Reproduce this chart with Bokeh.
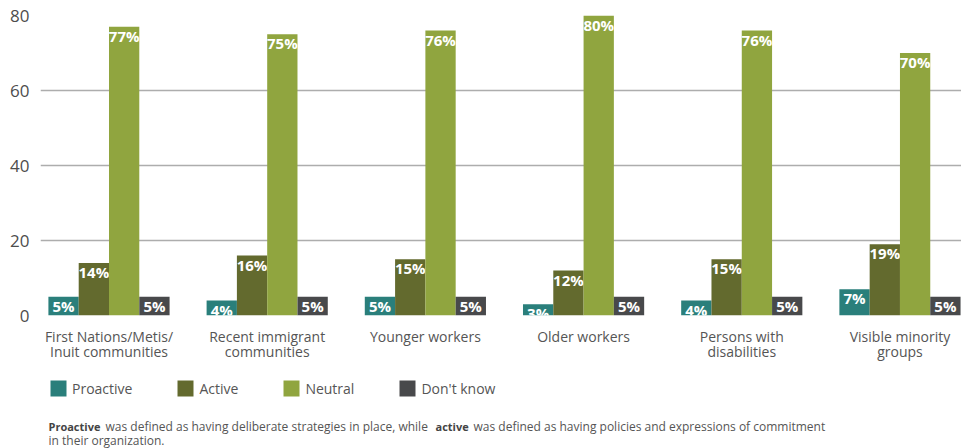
import numpy as np
from bokeh.plotting import figure
from bokeh.layouts import column
from bokeh.models import Range1d, FixedTicker, Legend, LegendItem, Label
from bokeh.core.properties import value
from bokeh.embed import file_html
from bokeh.resources import INLINE

categories = ["First Nations/Metis/\nInuit communities", "Recent immigrant\ncommunities",
              "Younger workers", "Older workers", "Persons with\ndisabilities",
              "Visible minority\ngroups"]
series_names = ["Proactive", "Active", "Neutral", "Don't know"]
proactive = [5, 4, 5, 3, 4, 7]
active = [14, 16, 15, 12, 15, 19]
neutral = [77, 75, 76, 80, 76, 70]
dont_know = [5, 5, 5, 5, 5, 5]
y_ticks = [0, 20, 40, 60, 80]
colors = ["#2A7F7B", "#636A2E", "#90A53F", "#48494B"]

FONT = "Open Sans"

# ---- main chart ----
p = figure(width=961, height=367, output_backend="svg", toolbar_location=None,
           x_range=Range1d(-0.433, 5.389), y_range=Range1d(0, 80),
           min_border_left=40, min_border_right=0, min_border_top=15, min_border_bottom=52)
p.outline_line_color = None

bw = 0.1915
idx = np.arange(len(categories))
for k, vals in enumerate([proactive, active, neutral, dont_know]):
    xs = idx + (k - 1.5) * bw
    p.vbar(x=xs, top=vals, width=bw, fill_color=colors[k], line_color=None)
    p.text(x=xs, y=vals, text=[f"{v}%" for v in vals], text_baseline="top",
           text_align="center", y_offset=-1, text_color="white",
           text_font=value(FONT), text_font_style="bold", text_font_size="15px")

p.yaxis.ticker = FixedTicker(ticks=y_ticks)
p.yaxis.axis_line_color = None
p.yaxis.major_tick_line_color = None
p.yaxis.minor_tick_line_color = None
p.yaxis.major_label_text_font = FONT
p.yaxis.major_label_text_font_size = "17px"
p.yaxis.major_label_text_color = "#4D4D4D"
p.yaxis.major_label_standoff = 5

p.xaxis.ticker = FixedTicker(ticks=list(range(len(categories))))
p.xaxis.major_label_overrides = {i: c for i, c in enumerate(categories)}
p.xaxis.axis_line_color = None
p.xaxis.major_tick_line_color = None
p.xaxis.minor_tick_line_color = None
p.xaxis.major_label_text_font = FONT
p.xaxis.major_label_text_font_size = "14px"
p.xaxis.major_label_text_color = "#555555"
p.xaxis.major_label_text_line_height = 0.84
p.xaxis.major_label_standoff = 5

p.xgrid.visible = False
p.ygrid.ticker = FixedTicker(ticks=y_ticks)
p.ygrid.grid_line_color = "#ADADAD"
p.ygrid.grid_line_width = 1.5

# ---- legend + footnote panel ----
p2 = figure(width=961, height=81, output_backend="svg", toolbar_location=None,
            x_range=Range1d(0, 1), y_range=Range1d(0, 1),
            x_axis_type=None, y_axis_type=None,
            min_border_left=40, min_border_right=0, min_border_top=0, min_border_bottom=0)
p2.outline_line_color = None
p2.grid.visible = False

# legend swatches only (no visible marks in this panel)
swatches = [p2.vbar(x=[np.nan], top=[np.nan], width=0.1, fill_color=c, line_color=None)
            for c in colors]
legend = Legend(items=[LegendItem(label=n, renderers=[r]) for n, r in zip(series_names, swatches)],
                location=(8, 50), orientation="horizontal", glyph_width=20, glyph_height=20,
                label_standoff=4, spacing=43, padding=0, margin=0,
                border_line_color=None, background_fill_alpha=0,
                label_text_font=FONT, label_text_font_size="14px", label_text_color="#555555")
p2.add_layout(legend)

note_style = dict(x_units="screen", y_units="screen", text_baseline="middle", text_font=FONT)
p2.add_layout(Label(x=8, y=22, text="Proactive", text_font_style="bold", text_font_size="11px",
                    text_color="#444444", **note_style))
p2.add_layout(Label(x=65, y=22, text="was defined as having deliberate strategies in place, while",
                    text_font_size="12px", text_color="#555555", **note_style))
p2.add_layout(Label(x=395, y=22, text="active", text_font_style="bold", text_font_size="11px",
                    text_color="#444444", **note_style))
p2.add_layout(Label(x=433, y=22, text="was defined as having policies and expressions of commitment",
                    text_font_size="12px", text_color="#555555", **note_style))
p2.add_layout(Label(x=8, y=8, text="in their organization.",
                    text_font_size="12px", text_color="#555555", **note_style))

layout = column(p, p2, spacing=0)
open("out.html", "w").write(file_html(layout, INLINE))
